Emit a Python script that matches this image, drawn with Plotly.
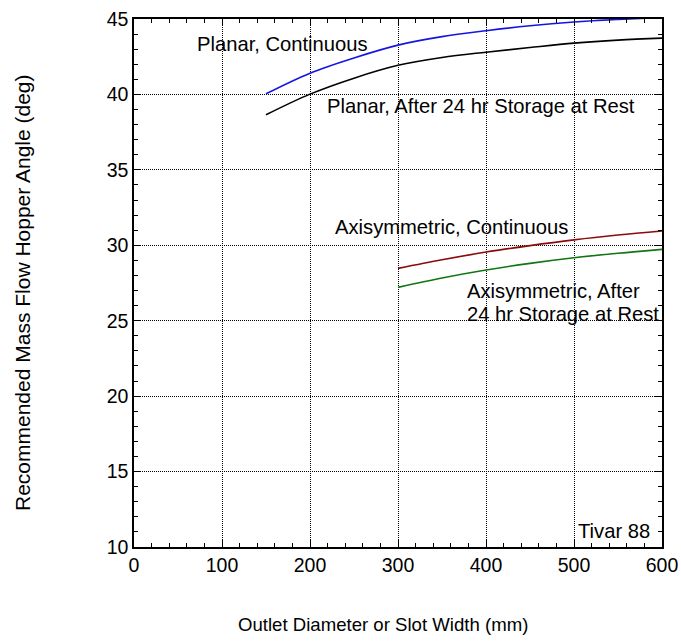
import plotly.graph_objects as go

# Data
planar_x = [150, 200, 250, 300, 350, 400, 450, 500, 550, 600]
planar_cont = [40.04, 41.41, 42.42, 43.27, 43.83, 44.22, 44.55, 44.8, 44.97, 45.1]
planar_rest = [38.65, 40.02, 41.08, 41.93, 42.45, 42.8, 43.11, 43.4, 43.6, 43.73]

axi_x = [300, 350, 400, 450, 500, 550, 600]
axi_cont = [28.47, 29.04, 29.55, 29.98, 30.36, 30.68, 30.95]
axi_rest = [27.21, 27.83, 28.36, 28.8, 29.17, 29.47, 29.73]

x_ticks = [0, 100, 200, 300, 400, 500, 600]
y_ticks = [10, 15, 20, 25, 30, 35, 40, 45]

FONT = "Liberation Sans, Arial, sans-serif"

fig = go.Figure()
fig.add_trace(go.Scatter(x=planar_x, y=planar_cont, mode="lines",
                         line=dict(color="#1414e6", width=1.6, shape="spline", smoothing=1), showlegend=False))
fig.add_trace(go.Scatter(x=planar_x, y=planar_rest, mode="lines",
                         line=dict(color="black", width=1.6, shape="spline", smoothing=1), showlegend=False))
fig.add_trace(go.Scatter(x=axi_x, y=axi_cont, mode="lines",
                         line=dict(color="#8b0a0a", width=1.6, shape="spline", smoothing=1), showlegend=False))
fig.add_trace(go.Scatter(x=axi_x, y=axi_rest, mode="lines",
                         line=dict(color="#117511", width=1.6, shape="spline", smoothing=1), showlegend=False))

annos = [
    ("Planar, Continuous", 71.7, 43.36),
    ("Planar, After 24 hr Storage at Rest", 219.6, 39.24),
    ("Axisymmetric, Continuous", 228.7, 31.23),
    ("Axisymmetric, After", 378.5, 26.97),
    ("24 hr Storage at Rest", 378.5, 25.43),
    ("Tivar 88", 505, 11.06),
]
for text, ax, ay in annos:
    fig.add_annotation(x=ax, y=ay, text=text, showarrow=False, xanchor="left", yanchor="middle",
                       align="left", font=dict(family=FONT, size=20.2, color="black"),
                       xshift=-2)

# axis titles placed as paper annotations (pixel positions converted below)
fig.add_annotation(x=383, y=641 - 624, xref="paper", yref="paper", text="Outlet Diameter or Slot Width (mm)",
                   showarrow=False, xanchor="center", yanchor="middle",
                   font=dict(family=FONT, size=18.6, color="black"))
fig.add_annotation(x=22, y=641 - 293, xref="paper", yref="paper", text="Recommended Mass Flow Hopper Angle (deg)",
                   showarrow=False, xanchor="center", yanchor="middle", textangle=-90,
                   font=dict(family=FONT, size=21, color="black"))

axis_common = dict(
    showline=True, linecolor="black", linewidth=1.5, mirror="allticks",
    ticks="inside", ticklen=7, tickcolor="black", tickwidth=1,
    showgrid=True, gridcolor="black", griddash="1px,1px", gridwidth=1,
    zeroline=False,
    tickfont=dict(family=FONT, size=19.5, color="black"),
)

fig.update_xaxes(range=[0, 600], tickvals=x_ticks,
                 minor=dict(dtick=20, ticks="inside", ticklen=4, tickcolor="black", showgrid=False),
                 **axis_common)
fig.update_yaxes(range=[10, 45], tickvals=y_ticks,
                 minor=dict(dtick=1, ticks="inside", ticklen=4, tickcolor="black", showgrid=False),
                 **axis_common)

fig.update_layout(
    width=681, height=641,
    margin=dict(l=134, r=19, t=19, b=94, autoexpand=False),
    paper_bgcolor="white", plot_bgcolor="white",
    font=dict(family=FONT, color="black"),
)
for a in fig.layout.annotations:
    if a.xref == "paper":
        a.x = (a.x - 134) / (681 - 134 - 19)
        a.y = (a.y - 94) / (641 - 94 - 19)

fig.write_html("out.html")
